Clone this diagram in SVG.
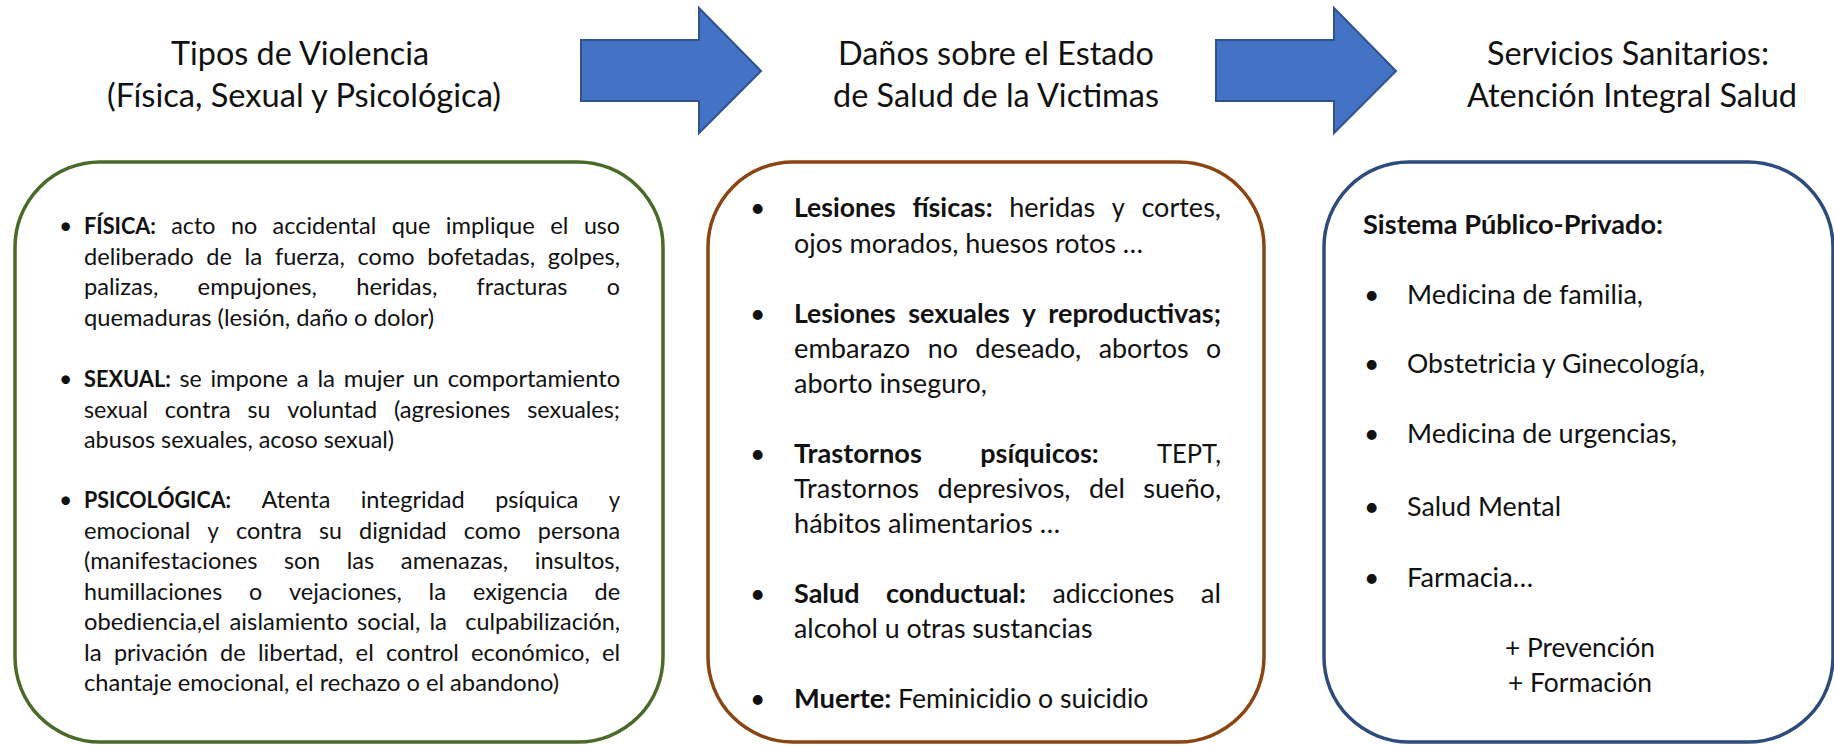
<svg xmlns="http://www.w3.org/2000/svg" width="1834" height="745" viewBox="0 0 1834 745">
<style>
text{font-family:Lato,"Liberation Sans",sans-serif;fill:#111}
tspan,text{}
.t{font-size:32.5px;text-anchor:middle}
.b1{font-size:23px}
.b2{font-size:26.5px}
.b3{font-size:26.5px}
.bd{font-weight:bold}
.arrow{fill:#4472C4;stroke:#2F528F;stroke-width:2}
.box{fill:#fff;stroke-width:3.5}
</style>
<rect width="1834" height="745" fill="#fff"/>

<g id="connectors">
<polygon class="arrow" points="581,40 699,40 699,8 761,71 699,133 699,101 581,101"/>
<polygon class="arrow" points="1216,40 1334,40 1334,8 1396,71 1334,133 1334,101 1216,101"/>
</g>

<g id="title1">
<text class="t" x="300" y="65" textLength="258" lengthAdjust="spacingAndGlyphs">Tipos de Violencia</text>
<text class="t" x="304" y="107" textLength="394" lengthAdjust="spacingAndGlyphs">(Física, Sexual y Psicológica)</text>
</g>
<g id="title2">
<text class="t" x="996" y="65" textLength="316" lengthAdjust="spacingAndGlyphs">Daños sobre el Estado</text>
<text class="t" x="996" y="107" textLength="326" lengthAdjust="spacingAndGlyphs">de Salud de la Victimas</text>
</g>
<g id="title3">
<text class="t" x="1628" y="65" textLength="282" lengthAdjust="spacingAndGlyphs">Servicios Sanitarios:</text>
<text class="t" x="1632" y="107" textLength="330" lengthAdjust="spacingAndGlyphs">Atención Integral Salud</text>
</g>

<g id="box1">
<rect class="box" x="15" y="162" width="648" height="580" rx="85" stroke="#4A6A28"/>
<g class="b1">
<text x="59" y="234">•</text>
<text x="59" y="387">•</text>
<text x="59" y="508">•</text>
<text y="234" lengthAdjust="spacingAndGlyphs"><tspan x="84" class="bd" textLength="71.9" lengthAdjust="spacingAndGlyphs">FÍSICA:</tspan><tspan x="171.3" textLength="44.1" lengthAdjust="spacingAndGlyphs">acto</tspan><tspan x="230.9" textLength="26.3" lengthAdjust="spacingAndGlyphs">no</tspan><tspan x="272.6" textLength="103.6" lengthAdjust="spacingAndGlyphs">accidental</tspan><tspan x="391.7" textLength="38.7" lengthAdjust="spacingAndGlyphs">que</tspan><tspan x="445.8" textLength="89" lengthAdjust="spacingAndGlyphs">implique</tspan><tspan x="550.2" textLength="18.2" lengthAdjust="spacingAndGlyphs">el</tspan><tspan x="583.9" textLength="36.1" lengthAdjust="spacingAndGlyphs">uso</tspan></text>
<text y="264.5"><tspan x="84" textLength="109.6" lengthAdjust="spacingAndGlyphs">deliberado</tspan><tspan x="206.3" textLength="25.6" lengthAdjust="spacingAndGlyphs">de</tspan><tspan x="244.5" textLength="17.7" lengthAdjust="spacingAndGlyphs">la</tspan><tspan x="274.9" textLength="70" lengthAdjust="spacingAndGlyphs">fuerza,</tspan><tspan x="357.6" textLength="56.9" lengthAdjust="spacingAndGlyphs">como</tspan><tspan x="427.2" textLength="107.9" lengthAdjust="spacingAndGlyphs">bofetadas,</tspan><tspan x="547.8" textLength="72.3" lengthAdjust="spacingAndGlyphs">golpes,</tspan></text>
<text y="295"><tspan x="84" textLength="74.4" lengthAdjust="spacingAndGlyphs">palizas,</tspan><tspan x="197.6" textLength="119.4" lengthAdjust="spacingAndGlyphs">empujones,</tspan><tspan x="356.2" textLength="81.2" lengthAdjust="spacingAndGlyphs">heridas,</tspan><tspan x="476.6" textLength="90.9" lengthAdjust="spacingAndGlyphs">fracturas</tspan><tspan x="606.7" textLength="13.2" lengthAdjust="spacingAndGlyphs">o</tspan></text>
<text x="84" y="325.5" textLength="350" lengthAdjust="spacingAndGlyphs">quemaduras (lesión, daño o dolor)</text>
<text y="387"><tspan x="84" class="bd" textLength="86.8" lengthAdjust="spacingAndGlyphs">SEXUAL:</tspan><tspan x="179.5" textLength="22.2" lengthAdjust="spacingAndGlyphs">se</tspan><tspan x="210.4" textLength="77.6" lengthAdjust="spacingAndGlyphs">impone</tspan><tspan x="296.7" textLength="12" lengthAdjust="spacingAndGlyphs">a</tspan><tspan x="317.4" textLength="17.7" lengthAdjust="spacingAndGlyphs">la</tspan><tspan x="343.7" textLength="60.3" lengthAdjust="spacingAndGlyphs">mujer</tspan><tspan x="412.7" textLength="26.3" lengthAdjust="spacingAndGlyphs">un</tspan><tspan x="447.7" textLength="172.4" lengthAdjust="spacingAndGlyphs">comportamiento</tspan></text>
<text y="417.5"><tspan x="84" textLength="63.9" lengthAdjust="spacingAndGlyphs">sexual</tspan><tspan x="164.7" textLength="66" lengthAdjust="spacingAndGlyphs">contra</tspan><tspan x="247.5" textLength="22.9" lengthAdjust="spacingAndGlyphs">su</tspan><tspan x="287.2" textLength="89.9" lengthAdjust="spacingAndGlyphs">voluntad</tspan><tspan x="393.9" textLength="116.5" lengthAdjust="spacingAndGlyphs">(agresiones</tspan><tspan x="527.2" textLength="92.8" lengthAdjust="spacingAndGlyphs">sexuales;</tspan></text>
<text x="84" y="448" textLength="310" lengthAdjust="spacingAndGlyphs">abusos sexuales, acoso sexual)</text>
<text y="508"><tspan x="84" class="bd" textLength="147.1" lengthAdjust="spacingAndGlyphs">PSICOLÓGICA:</tspan><tspan x="261.5" textLength="68.8" lengthAdjust="spacingAndGlyphs">Atenta</tspan><tspan x="360.7" textLength="104.1" lengthAdjust="spacingAndGlyphs">integridad</tspan><tspan x="495.2" textLength="83.2" lengthAdjust="spacingAndGlyphs">psíquica</tspan><tspan x="608.8" textLength="11.3" lengthAdjust="spacingAndGlyphs">y</tspan></text>
<text y="538.5"><tspan x="84" textLength="106.4" lengthAdjust="spacingAndGlyphs">emocional</tspan><tspan x="207.5" textLength="11.3" lengthAdjust="spacingAndGlyphs">y</tspan><tspan x="235.9" textLength="66" lengthAdjust="spacingAndGlyphs">contra</tspan><tspan x="319" textLength="22.9" lengthAdjust="spacingAndGlyphs">su</tspan><tspan x="359" textLength="87.7" lengthAdjust="spacingAndGlyphs">dignidad</tspan><tspan x="463.8" textLength="56.9" lengthAdjust="spacingAndGlyphs">como</tspan><tspan x="537.8" textLength="82.4" lengthAdjust="spacingAndGlyphs">persona</tspan></text>
<text y="569"><tspan x="84" textLength="173.4" lengthAdjust="spacingAndGlyphs">(manifestaciones</tspan><tspan x="284" textLength="36.1" lengthAdjust="spacingAndGlyphs">son</tspan><tspan x="346.7" textLength="27.5" lengthAdjust="spacingAndGlyphs">las</tspan><tspan x="400.8" textLength="107.4" lengthAdjust="spacingAndGlyphs">amenazas,</tspan><tspan x="534.8" textLength="85.1" lengthAdjust="spacingAndGlyphs">insultos,</tspan></text>
<text y="599.5"><tspan x="84" textLength="138.2" lengthAdjust="spacingAndGlyphs">humillaciones</tspan><tspan x="249" textLength="13.2" lengthAdjust="spacingAndGlyphs">o</tspan><tspan x="289" textLength="112.8" lengthAdjust="spacingAndGlyphs">vejaciones,</tspan><tspan x="428.6" textLength="17.7" lengthAdjust="spacingAndGlyphs">la</tspan><tspan x="473.1" textLength="94.6" lengthAdjust="spacingAndGlyphs">exigencia</tspan><tspan x="594.5" textLength="25.6" lengthAdjust="spacingAndGlyphs">de</tspan></text>
<text y="630"><tspan x="84" textLength="136.4" lengthAdjust="spacingAndGlyphs">obediencia,el</tspan><tspan x="229.5" textLength="118.5" lengthAdjust="spacingAndGlyphs">aislamiento</tspan><tspan x="357.1" textLength="63.2" lengthAdjust="spacingAndGlyphs">social,</tspan><tspan x="429.4" textLength="17.7" lengthAdjust="spacingAndGlyphs">la</tspan><tspan x="465.3" textLength="154.7" lengthAdjust="spacingAndGlyphs">culpabilización,</tspan></text>
<text y="660.5"><tspan x="84" textLength="17.7" lengthAdjust="spacingAndGlyphs">la</tspan><tspan x="113.9" textLength="94" lengthAdjust="spacingAndGlyphs">privación</tspan><tspan x="220.1" textLength="25.6" lengthAdjust="spacingAndGlyphs">de</tspan><tspan x="257.9" textLength="85.5" lengthAdjust="spacingAndGlyphs">libertad,</tspan><tspan x="355.6" textLength="18.2" lengthAdjust="spacingAndGlyphs">el</tspan><tspan x="386" textLength="72.9" lengthAdjust="spacingAndGlyphs">control</tspan><tspan x="471.1" textLength="118.7" lengthAdjust="spacingAndGlyphs">económico,</tspan><tspan x="602" textLength="18.2" lengthAdjust="spacingAndGlyphs">el</tspan></text>
<text x="84" y="691" textLength="475" lengthAdjust="spacingAndGlyphs">chantaje emocional, el rechazo o el abandono)</text>
</g>
</g>

<g id="box2">
<rect class="box" x="708" y="162" width="556" height="580" rx="85" stroke="#8B4513"/>
<g class="b2">
<text x="750" y="217">•</text>
<text x="750" y="323">•</text>
<text x="750" y="463">•</text>
<text x="750" y="603">•</text>
<text x="750" y="708">•</text>
<text y="217"><tspan x="794" class="bd" textLength="101.8" lengthAdjust="spacingAndGlyphs">Lesiones</tspan><tspan x="912.4" class="bd" textLength="80.2" lengthAdjust="spacingAndGlyphs">físicas:</tspan><tspan x="1009.2" textLength="86" lengthAdjust="spacingAndGlyphs">heridas</tspan><tspan x="1111.8" textLength="13" lengthAdjust="spacingAndGlyphs">y</tspan><tspan x="1141.4" textLength="79.6" lengthAdjust="spacingAndGlyphs">cortes,</tspan></text>
<text x="794" y="253" textLength="349" lengthAdjust="spacingAndGlyphs">ojos morados, huesos rotos …</text>
<text y="323" class="bd"><tspan x="794" textLength="101.8" lengthAdjust="spacingAndGlyphs">Lesiones</tspan><tspan x="908.2" textLength="101.7" lengthAdjust="spacingAndGlyphs">sexuales</tspan><tspan x="1022.3" textLength="13.6" lengthAdjust="spacingAndGlyphs">y</tspan><tspan x="1048.3" textLength="172.7" lengthAdjust="spacingAndGlyphs">reproductivas;</tspan></text>
<text y="358"><tspan x="794" textLength="116.3" lengthAdjust="spacingAndGlyphs">embarazo</tspan><tspan x="927.7" textLength="30.2" lengthAdjust="spacingAndGlyphs">no</tspan><tspan x="975.3" textLength="106" lengthAdjust="spacingAndGlyphs">deseado,</tspan><tspan x="1098.7" textLength="89.9" lengthAdjust="spacingAndGlyphs">abortos</tspan><tspan x="1206" textLength="15.1" lengthAdjust="spacingAndGlyphs">o</tspan></text>
<text x="794" y="393" textLength="193" lengthAdjust="spacingAndGlyphs">aborto inseguro,</text>
<text y="463"><tspan x="794" class="bd" textLength="127.9" lengthAdjust="spacingAndGlyphs">Trastornos</tspan><tspan x="980.2" class="bd" textLength="118.6" lengthAdjust="spacingAndGlyphs">psíquicos:</tspan><tspan x="1157" textLength="64" lengthAdjust="spacingAndGlyphs">TEPT,</tspan></text>
<text y="498"><tspan x="794" textLength="125.1" lengthAdjust="spacingAndGlyphs">Trastornos</tspan><tspan x="937.5" textLength="133" lengthAdjust="spacingAndGlyphs">depresivos,</tspan><tspan x="1088.9" textLength="35.9" lengthAdjust="spacingAndGlyphs">del</tspan><tspan x="1143.2" textLength="77.9" lengthAdjust="spacingAndGlyphs">sueño,</tspan></text>
<text x="794" y="533" textLength="266" lengthAdjust="spacingAndGlyphs">hábitos alimentarios …</text>
<text y="603"><tspan x="794" class="bd" textLength="65.6" lengthAdjust="spacingAndGlyphs">Salud</tspan><tspan x="885.9" class="bd" textLength="140.2" lengthAdjust="spacingAndGlyphs">conductual:</tspan><tspan x="1052.4" textLength="121.9" lengthAdjust="spacingAndGlyphs">adicciones</tspan><tspan x="1200.7" textLength="20.3" lengthAdjust="spacingAndGlyphs">al</tspan></text>
<text x="794" y="638" textLength="298.5" lengthAdjust="spacingAndGlyphs">alcohol u otras sustancias</text>
<text y="708"><tspan x="794" class="bd" textLength="97.4" lengthAdjust="spacingAndGlyphs">Muerte:</tspan><tspan x="898" textLength="250.5" lengthAdjust="spacingAndGlyphs">Feminicidio o suicidio</tspan></text>
</g>
</g>

<g id="box3">
<rect class="box" x="1324" y="162" width="509" height="580" rx="85" stroke="#2E4B7E"/>
<g class="b3">
<text x="1363" y="234" class="bd" textLength="300" lengthAdjust="spacingAndGlyphs">Sistema Público-Privado:</text>
<text x="1364" y="304">•</text>
<text x="1364" y="373">•</text>
<text x="1364" y="443">•</text>
<text x="1364" y="516">•</text>
<text x="1364" y="587">•</text>
<text x="1407" y="304" textLength="236" lengthAdjust="spacingAndGlyphs">Medicina de familia,</text>
<text x="1407" y="373" textLength="298" lengthAdjust="spacingAndGlyphs">Obstetricia y Ginecología,</text>
<text x="1407" y="443" textLength="270" lengthAdjust="spacingAndGlyphs">Medicina de urgencias,</text>
<text x="1407" y="516" textLength="154" lengthAdjust="spacingAndGlyphs">Salud Mental</text>
<text x="1407" y="587" textLength="126" lengthAdjust="spacingAndGlyphs">Farmacia…</text>
<text x="1580" y="657" text-anchor="middle" textLength="150" lengthAdjust="spacingAndGlyphs">+ Prevención</text>
<text x="1580" y="692" text-anchor="middle" textLength="144" lengthAdjust="spacingAndGlyphs">+ Formación</text>
</g>
</g>
</svg>
